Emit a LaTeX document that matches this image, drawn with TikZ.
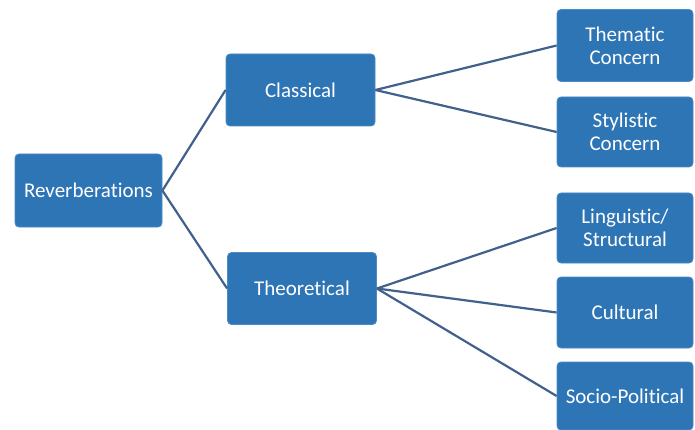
\documentclass[tikz,border=0pt]{standalone}
\usepackage{fontspec}
\setmainfont[RawFeature=-liga]{Carlito}
\definecolor{boxblue}{HTML}{2E75B6}
\definecolor{boxedge}{HTML}{4A8BC9}
\definecolor{linkblue}{HTML}{41618C}
\begin{document}
\begin{tikzpicture}[x=1pt,y=-1pt,
  box/.style={draw=boxedge,line width=0.8pt,fill=boxblue,rounded corners=4pt,
    text=white,font=\fontsize{21}{23}\selectfont,align=center,inner sep=0pt},
  link/.style={draw=linkblue,line width=2.2pt}]
\useasboundingbox[fill=white] (0,0) rectangle (695,430);
\node[box,minimum width=147,minimum height=73] (rev) at (88.5,190.5) {Reverberations};
\node[box,minimum width=149,minimum height=72] (cla) at (300.5,90) {Classical};
\node[box,minimum width=149,minimum height=72] (the) at (302,288.5) {Theoretical};
\node[box,minimum width=136,minimum height=72] (thm) at (625,45.5) {Thematic\\Concern};
\node[box,minimum width=136,minimum height=70] (sty) at (625,132) {Stylistic\\Concern};
\node[box,minimum width=136,minimum height=70] (lin) at (625,228) {Linguistic/\\Structural};
\node[box,minimum width=136,minimum height=71] (cul) at (625,312.5) {Cultural};
\node[box,minimum width=136,minimum height=68] (soc) at (625,396) {Socio-Political};
\draw[link] (rev.east) -- (cla.west);
\draw[link] (rev.east) -- (the.west);
\draw[link] (cla.east) -- (thm.west);
\draw[link] (cla.east) -- (sty.west);
\draw[link] (the.east) -- (lin.west);
\draw[link] (the.east) -- (cul.west);
\draw[link] (the.east) -- (soc.west);
\end{tikzpicture}
\end{document}
